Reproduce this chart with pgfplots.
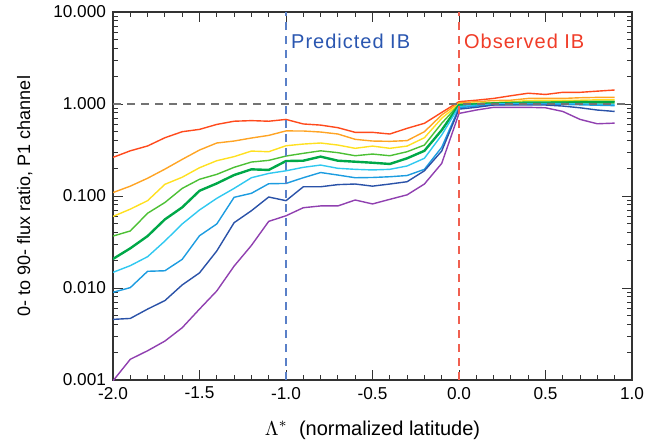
\documentclass[border=0pt]{standalone}
\usepackage{fontspec}
\setmainfont{Liberation Sans}
\newfontfamily\lblfont[LetterSpace=5]{Liberation Sans}
\usepackage{pgfplots}
\usepackage{pgfplotstable}
\pgfplotsset{compat=1.18}

\definecolor{cRed}{HTML}{FF4A1C}
\definecolor{cOrange}{HTML}{FFA424}
\definecolor{cYellow}{HTML}{FFE020}
\definecolor{cLGreen}{HTML}{4CC034}
\definecolor{cGreen}{HTML}{00A848}
\definecolor{cCyan}{HTML}{30C8F0}
\definecolor{cBlue}{HTML}{1C9CE0}
\definecolor{cDBlue}{HTML}{2A52A8}
\definecolor{cPurple}{HTML}{9040B0}
\definecolor{ibBlue}{HTML}{5A80C8}
\definecolor{ibRed}{HTML}{F06050}
\definecolor{txtBlue}{HTML}{2A56B0}
\definecolor{txtRed}{HTML}{F03C28}

% 0- to 90- flux ratio per energy step, x = normalized latitude
\pgfplotstableread{
x    r     o     y     lg     g      c      b       db      p
-2.0 0.263 0.109 0.060 0.0367 0.0207 0.0148 0.00898 0.00456 0.00098
-1.9 0.31  0.128 0.072 0.0417 0.027  0.0175 0.0101  0.00467 0.00168
-1.8 0.35  0.156 0.089 0.065  0.0367 0.0219 0.0152  0.0059  0.00208
-1.7 0.43  0.196 0.134 0.085  0.0557 0.0324 0.0154  0.0073  0.00265
-1.6 0.50  0.25  0.160 0.121  0.0753 0.0497 0.0205  0.0108  0.0037
-1.5 0.53  0.316 0.203 0.152  0.114  0.0705 0.037   0.0146  0.0059
-1.4 0.60  0.377 0.242 0.172  0.137  0.0944 0.0497  0.0253  0.0093
-1.3 0.65  0.396 0.268 0.205  0.169  0.121  0.0968  0.0513  0.0173
-1.2 0.66  0.427 0.308 0.234  0.195  0.158  0.107   0.0692  0.029
-1.1 0.65  0.456 0.303 0.244  0.192  0.176  0.136   0.0975  0.053
-1.0 0.68  0.51  0.352 0.272  0.240  0.188  0.137   0.089   0.061
-0.9 0.607 0.509 0.367 0.291  0.242  0.205  0.158   0.126   0.0746
-0.8 0.59  0.496 0.377 0.31   0.268  0.217  0.18    0.126   0.078
-0.7 0.553 0.472 0.358 0.296  0.242  0.20   0.169   0.133   0.078
-0.6 0.492 0.413 0.33  0.274  0.236  0.195  0.158   0.135   0.0905
-0.5 0.492 0.396 0.349 0.286  0.230  0.192  0.159   0.128   0.082
-0.4 0.472 0.393 0.33  0.274  0.223  0.195  0.162   0.135   0.092
-0.3 0.544 0.40  0.349 0.303  0.257  0.212  0.167   0.143   0.103
-0.2 0.617 0.50  0.43  0.358  0.31   0.257  0.195   0.188   0.135
-0.1 0.81  0.76  0.70  0.617  0.52   0.46   0.338   0.308   0.226
 0.0 1.06  1.03  1.0   0.99   0.97   0.94   0.91    0.88    0.79
 0.1 1.10  1.06  1.02  1.01   0.99   0.97   0.95    0.92    0.86
 0.2 1.15  1.09  1.04  1.03   1.01   1.0    0.98    0.975   0.92
 0.3 1.23  1.10  1.06  1.04   1.02   1.01   0.99    0.975   0.92
 0.4 1.31  1.15  1.09  1.05   1.03   1.01   1.0     0.975   0.92
 0.5 1.27  1.15  1.10  1.05   1.03   1.01   1.0     0.975   0.91
 0.6 1.34  1.15  1.10  1.06   1.03   1.01   0.99    0.95    0.83
 0.7 1.34  1.17  1.10  1.07   1.04   1.0    0.98    0.91    0.68
 0.8 1.38  1.18  1.11  1.07   1.04   0.99   0.97    0.86    0.61
 0.9 1.42  1.18  1.11  1.07   1.04   0.98   0.96    0.83    0.62
}\ratios

\begin{document}
\begin{tikzpicture}
\useasboundingbox (-56.5pt,-33pt) rectangle (267.5pt,190pt);
\begin{axis}[
  at={(0,0)}, anchor=south west,
  scale only axis, width=259.5pt, height=184pt,
  ymode=log,
  xmin=-2, xmax=1, ymin=0.001, ymax=10,
  xtick={-2,-1.5,-1,-0.5,0,0.5,1},
  xticklabels={-2.0,-1.5,-1.0,-0.5,0.0,0.5,1.0},
  minor x tick num=4,
  ytick={0.001,0.01,0.1,1,10},
  yticklabels={0.001,0.010,0.100,1.000,10.000},
  tick align=inside,
  major tick length=5pt, minor tick length=2.5pt,
  axis line style={draw=black!80, line width=0.6pt},
  every tick/.style={black!80, line width=0.5pt},
  ticklabel style={font=\fontsize{8.6}{10}\selectfont},
  xlabel={$\Lambda^{*}$\ \ (normalized latitude)},
  ylabel={0- to 90- flux ratio, P1 channel},
  xlabel style={font=\fontsize{10}{12}\selectfont, at={(axis description cs:0.5,-0.136)}, anchor=center},
  ylabel style={font=\fontsize{9}{11}\selectfont, at={(axis description cs:-0.17,0.5)}, anchor=center},
  every axis plot/.append style={line width=0.7pt, mark=none},
]
  \addplot[cRed]    table[x=x, y=r]  {\ratios};
  \addplot[cOrange] table[x=x, y=o]  {\ratios};
  \addplot[cYellow] table[x=x, y=y]  {\ratios};
  \addplot[cLGreen] table[x=x, y=lg] {\ratios};
  \addplot[cGreen, line width=1.2pt] table[x=x, y=g] {\ratios};
  \addplot[cCyan]   table[x=x, y=c]  {\ratios};
  \addplot[cBlue]   table[x=x, y=b]  {\ratios};
  \addplot[cDBlue]  table[x=x, y=db] {\ratios};
  \addplot[cPurple] table[x=x, y=p]  {\ratios};

  % reference lines
  \addplot[black!55, line width=0.8pt, dash pattern=on 4pt off 3pt] coordinates {(-2,1) (1,1)};
  \addplot[ibBlue, line width=0.8pt, dash pattern=on 4pt off 3pt] coordinates {(-1,0.001) (-1,10)};
  \addplot[ibRed, line width=0.8pt, dash pattern=on 4pt off 3pt] coordinates {(0,0.001) (0,10)};

  \node[anchor=west, inner sep=0pt, xshift=2.4pt, text=txtBlue, font=\lblfont\fontsize{10}{12}\selectfont]
    at (axis cs:-1,4.76) {Predicted IB};
  \node[anchor=west, inner sep=0pt, xshift=2.4pt, text=txtRed, font=\lblfont\fontsize{10}{12}\selectfont]
    at (axis cs:0,4.76) {Observed IB};
\end{axis}
\end{tikzpicture}
\end{document}
